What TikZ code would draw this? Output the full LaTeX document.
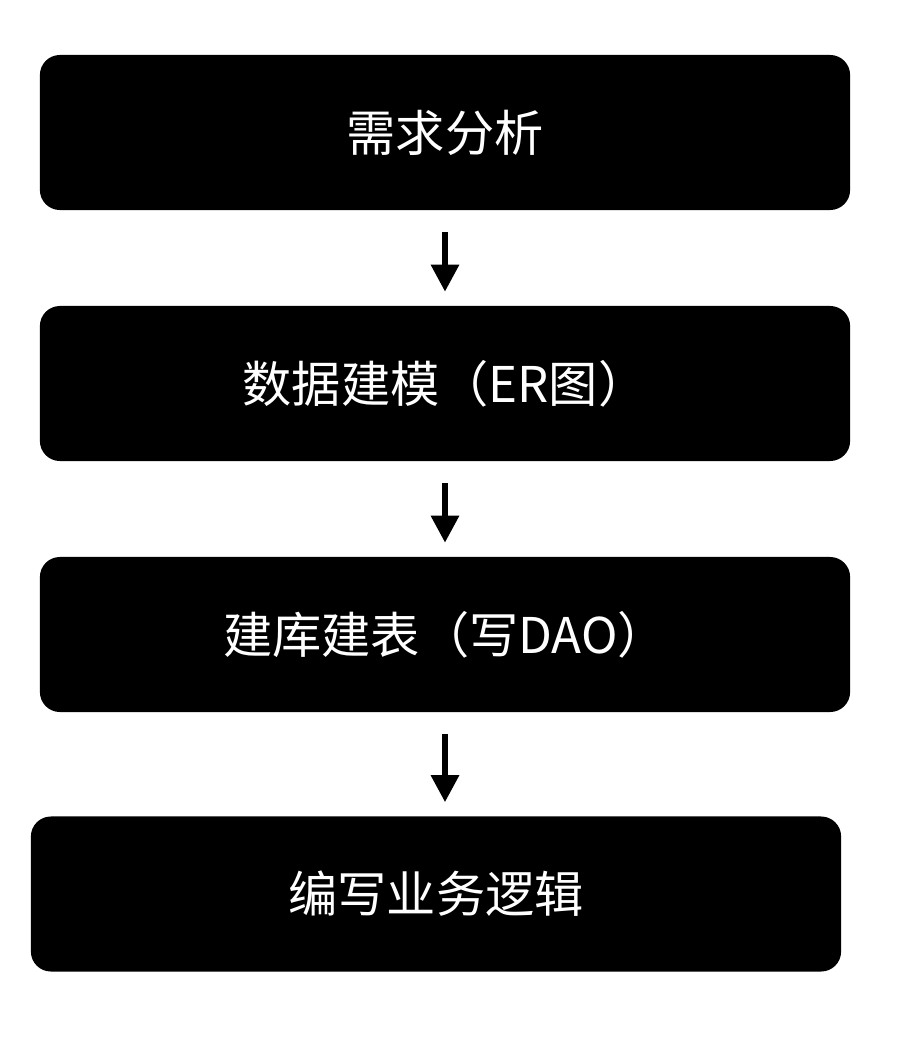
\documentclass[tikz,border=0pt]{standalone}
\usepackage{fontspec}
\newfontfamily\cjk{Noto Sans CJK SC}
\usetikzlibrary{arrows.meta}
\tikzset{
  stepbox/.style={fill=black,text=white,rounded corners=0.5cm,minimum width=20.25cm,minimum height=3.875cm,font=\cjk\fontsize{35}{40}\selectfont},
  flow/.style={line width=0.15cm,-{Triangle[length=0.675cm,width=0.675cm]},shorten <=0.55cm,shorten >=0.35cm}
}
\begin{document}
\begin{tikzpicture}[x=0.025cm,y=-0.025cm]
	\useasboundingbox (0,0) rectangle (910,1038);
	\node[stepbox] (a) at (445,132.5) {需求分析};
	\node[stepbox] (b) at (445,383.5) {数据建模（ER图）};
	\node[stepbox] (c) at (445,634.5) {建库建表（写DAO）};
	\node[stepbox] (d) at (436,894) {编写业务逻辑};
	\draw[flow] (a) -- (b);
	\draw[flow] (b) -- (c);
	\draw[flow] (c.south) -- (c.south |- d.north);
\end{tikzpicture}
\end{document}
